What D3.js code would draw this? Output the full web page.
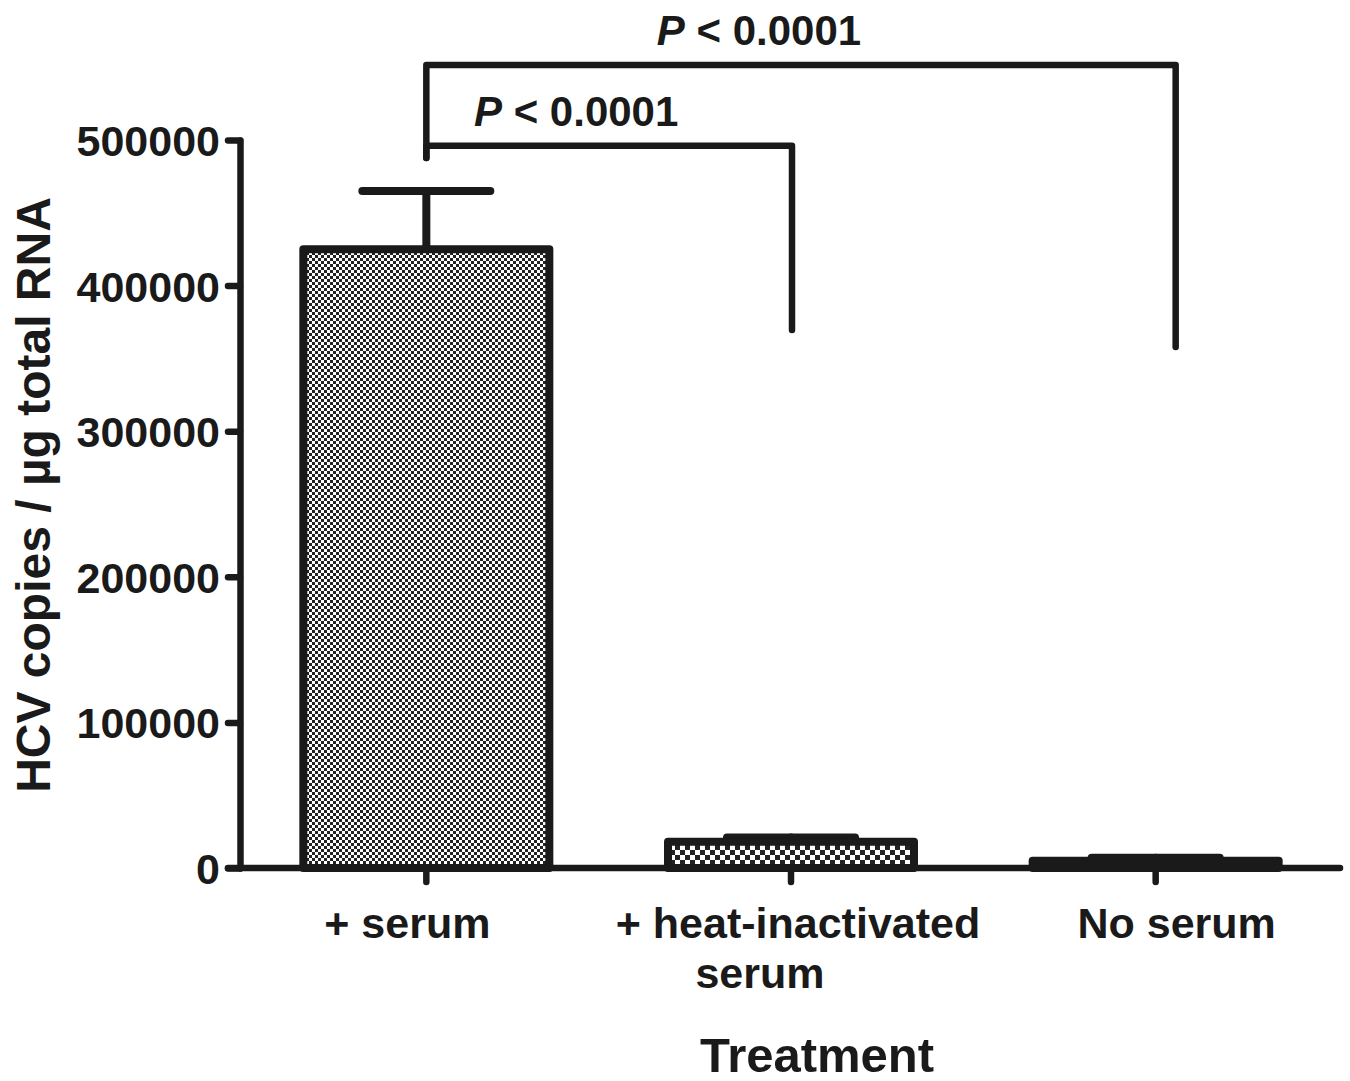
<!DOCTYPE html>
<html>
<head>
<meta charset="utf-8">
<script src="https://cdn.jsdelivr.net/npm/d3@7"></script>
<style>
  body { margin: 0; background: #fff; }
  text { font-family: "Liberation Sans", Arial, sans-serif; font-weight: bold; fill: #1a1a1a; }
</style>
</head>
<body>
<script>
const ink = "#1a1a1a";

// data
const treatments = ["+ serum", "+ heat-inactivated serum", "No serum"];
const labelLines = [["+ serum"], ["+ heat-inactivated", "serum"], ["No serum"]];
const means = [425000, 18000, 5000];
const errors = [40000, 3000, 2000];
const yTicks = [0, 100000, 200000, 300000, 400000, 500000];

// significance brackets, heights in data units
const brackets = [
  { from: 0, to: 1, top: 496000, leftEnd: 487600, rightEnd: 369500, label: "0.0001" },
  { from: 0, to: 2, top: 551500, leftEnd: 487600, rightEnd: 357800, label: "0.0001" }
];

var width = 1350,
  height = 1081;

var svg = d3
  .select("body")
  .append("svg")
  .attr("width", width)
  .attr("height", height);

var defs = svg.append("defs");

function checker(id, cell) {
  var p = defs
    .append("pattern")
    .attr("id", id)
    .attr("patternUnits", "userSpaceOnUse")
    .attr("width", cell * 2)
    .attr("height", cell * 2);
  p.append("rect").attr("width", cell * 2).attr("height", cell * 2).attr("fill", "#fff");
  p.append("rect").attr("width", cell).attr("height", cell).attr("fill", "#222");
  p.append("rect").attr("x", cell).attr("y", cell).attr("width", cell).attr("height", cell).attr("fill", "#222");
}
checker("fine", 3);
checker("coarse", 5);

var x = d3.scaleBand().domain(treatments).range([244, 1338]);
var y = d3.scaleLinear().domain([0, 500000]).range([868, 140]);

const barWidth = 246;
const capWidth = 128;

// error bars (behind the bars)
var err = svg.append("g").attr("stroke", ink).attr("stroke-linecap", "round").attr("stroke-width", 8);
treatments.forEach((t, i) => {
  var cx = x(t) + x.bandwidth() / 2;
  err.append("line")
    .attr("x1", cx).attr("x2", cx)
    .attr("y1", y(means[i])).attr("y2", y(means[i] + errors[i]));
  err.append("line")
    .attr("x1", cx - capWidth / 2).attr("x2", cx + capWidth / 2)
    .attr("y1", y(means[i] + errors[i])).attr("y2", y(means[i] + errors[i]));
});

svg
  .selectAll(".bar")
  .data(treatments)
  .enter()
  .append("rect")
  .attr("class", "bar")
  .attr("x", (d) => x(d) + x.bandwidth() / 2 - barWidth / 2)
  .attr("width", barWidth)
  .attr("y", (d, i) => y(means[i]))
  .attr("height", (d, i) => y(0) - y(means[i]))
  .attr("fill", (d, i) => (i == 0 ? "url(#fine)" : "url(#coarse)"))
  .attr("stroke", ink)
  .attr("stroke-width", 8)
  .attr("stroke-linejoin", "round");

// axes
var yAxis = d3.axisLeft(y).tickValues(yTicks).tickSize(12).tickSizeOuter(0).tickPadding(8).tickFormat(d3.format("d"));
var gy = svg.append("g").attr("transform", "translate(240,0)").call(yAxis);
gy.selectAll("text").style("font-size", "43px").attr("dy", "0.36em");

var xAxis = d3.axisBottom(x).tickSize(14).tickSizeOuter(0).tickFormat("");
var gx = svg.append("g").attr("transform", "translate(0,868)").call(xAxis);
gx.select(".domain").attr("d", "M228,0H1340");

[gx, gy].forEach((g) => {
  g.select(".domain").attr("stroke", ink).attr("stroke-width", 6.5).attr("stroke-linecap", "round");
  g.selectAll(".tick line").attr("stroke", ink).attr("stroke-width", 6.5).attr("stroke-linecap", "round");
});

// category labels
const nudge = [[-19], [7, -31], [21]];
labelLines.forEach((lines, i) => {
  var cx = x(treatments[i]) + x.bandwidth() / 2;
  lines.forEach((line, j) => {
    svg.append("text")
      .attr("x", cx + nudge[i][j])
      .attr("y", 938 + j * 50)
      .attr("text-anchor", "middle")
      .style("font-size", "43px")
      .text(line);
  });
});

svg.append("text")
  .attr("x", 817)
  .attr("y", 1072)
  .attr("text-anchor", "middle")
  .style("font-size", "49px")
  .text("Treatment");

svg.append("text")
  .attr("transform", "translate(50,495) rotate(-90)")
  .attr("text-anchor", "middle")
  .style("font-size", "48px")
  .text("HCV copies / µg total RNA");

// brackets
const rightShift = [1, 20];
brackets.forEach((b, i) => {
  var x0 = x(treatments[b.from]) + x.bandwidth() / 2;
  var x1 = x(treatments[b.to]) + x.bandwidth() / 2 + rightShift[i];
  svg.append("path")
    .attr("d", `M${x0},${y(b.leftEnd)}V${y(b.top)}H${x1}V${y(b.rightEnd)}`)
    .attr("fill", "none")
    .attr("stroke", ink)
    .attr("stroke-width", 6.5)
    .attr("stroke-linecap", "round")
    .attr("stroke-linejoin", "round");
  var t = svg.append("text")
    .attr("x", (x0 + x1) / 2 - (i == 0 ? 33 : 42))
    .attr("y", y(b.top) - 20)
    .attr("text-anchor", "middle")
    .style("font-size", "42px");
  t.append("tspan").style("font-style", "italic").text("P");
  t.append("tspan").text(" < " + b.label);
});
</script>
</body>
</html>
